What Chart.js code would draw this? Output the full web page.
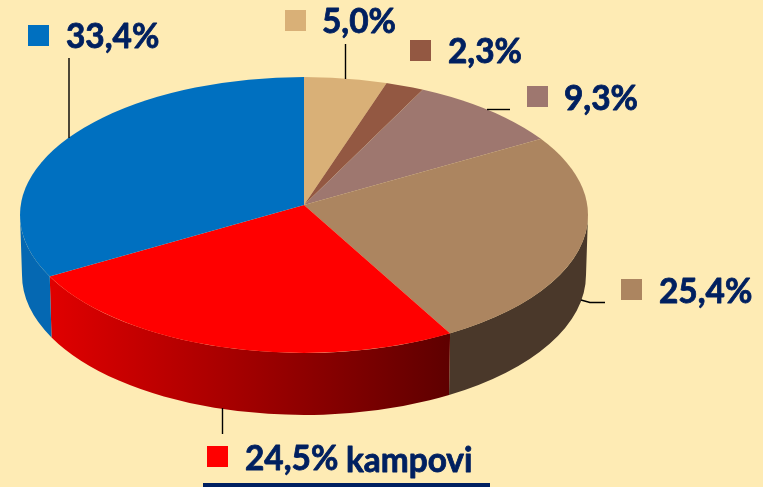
<!DOCTYPE html>
<html>
<head>
<meta charset="utf-8">
<style>html,body{margin:0;padding:0;background:#FEEBB4;overflow:hidden}canvas{display:block}</style>
<script src="https://cdn.jsdelivr.net/npm/chart.js@4"></script>
</head>
<body>
<canvas id="c" width="763" height="487"></canvas>
<script>
// Clockwise from twelve o'clock
const categories = ['Sand', 'Brown', 'Mauve', 'Tan', 'Kampovi', 'Blue'];
const values = [5.0, 2.3, 9.3, 25.4, 24.5, 33.4];
const valueLabels = ['5,0%', '2,3%', '9,3%', '25,4%', '24,5%', '33,4%'];
const suffixes = ['', '', '', '', 'kampovi', ''];
const topColors = ['#D9B077', '#935842', '#9E776F', '#AC8560', '#FF0000', '#0070C0'];

const INK = '#002060';
const apex = {x: 304, y: 205};
const upper = {cx: 304, cy: 215, rx: 284, ry: 138};
const lower = {cx: 304, cy: 275, rx: 282, ry: 140};
const TILT = 0.48;

// Callout layout by slice index: swatch left/top, text left/baseline, leader polyline
const callouts = [
  {sx: 285, sy: 10,  tx: 322, ty: 33,  line: [[345.5, 44], [345.5, 79]]},
  {sx: 410, sy: 40,  tx: 448, ty: 63,  line: null},
  {sx: 527, sy: 86,  tx: 564, ty: 110, line: [[487, 109.5], [510, 109.5]]},
  {sx: 621, sy: 279, tx: 659, ty: 303, line: [[581, 300], [590, 302.5], [605, 302.5]]},
  {sx: 207, sy: 446, tx: 245, ty: 470, line: [[222.5, 408], [222.5, 434]]},
  {sx: 28,  sy: 25,  tx: 66,  ty: 47.5, line: [[69, 58], [69, 138]]}
];

// Where a slice edge (chart angle) meets the rim ellipse; returns the ellipse parameter
function rimParam(a) {
  const dx = Math.cos(a), dy = TILT * Math.sin(a);
  const ox = (apex.x - upper.cx) / upper.rx, oy = (apex.y - upper.cy) / upper.ry;
  const px = dx / upper.rx, py = dy / upper.ry;
  const A = px * px + py * py, B = 2 * (ox * px + oy * py), C = ox * ox + oy * oy - 1;
  const k = (-B + Math.sqrt(B * B - 4 * A * C)) / (2 * A);
  return Math.atan2(oy + k * py, ox + k * px);
}
function wallFill(ctx, i) {
  if (i === 4) {
    const g = ctx.createLinearGradient(50, 0, 450, 0);
    g.addColorStop(0, '#E00000');
    g.addColorStop(0.5, '#A00000');
    g.addColorStop(1, '#5E0000');
    return g;
  }
  if (i === 3) return '#4A382A';
  if (i === 5) return '#0568B2';
  return topColors[i];
}
function drawText(ctx, text, x, y) {
  ctx.fillText(text, x, y);
  ctx.strokeText(text, x, y);
}

const pie3d = {
  id: 'pie3d',
  beforeDatasetsDraw(chart) {
    const ctx = chart.ctx, arcs = chart.getDatasetMeta(0).data;
    arcs.forEach((arc, i) => {
      let t0 = rimParam(arc.startAngle);
      let t1 = rimParam(arc.endAngle);
      if (t1 <= t0) t1 += 2 * Math.PI;
      // the slice may reach the front half (0..PI) directly or one turn round
      [0, -2 * Math.PI, 2 * Math.PI].forEach(shift => {
        const from = Math.max(t0 + shift, 0), to = Math.min(t1 + shift, Math.PI);
        if (to <= from) return;
        ctx.beginPath();
        ctx.ellipse(upper.cx, upper.cy, upper.rx, upper.ry, 0, from, to);
        ctx.ellipse(lower.cx, lower.cy, lower.rx, lower.ry, 0, to, from, true);
        ctx.closePath();
        ctx.fillStyle = wallFill(ctx, i);
        ctx.fill();
      });
    });
    const arc = arcs[0];
    const sx = 340 / arc.outerRadius;
    ctx.save();
    ctx.beginPath();
    ctx.ellipse(upper.cx, upper.cy, upper.rx, upper.ry, 0, 0, 2 * Math.PI);
    ctx.clip();
    ctx.translate(apex.x, apex.y);
    ctx.scale(sx, sx * TILT);
    ctx.translate(-arc.x, -arc.y);
  },
  afterDatasetsDraw(chart) {
    chart.ctx.restore();
  },
  afterDraw(chart) {
    const ctx = chart.ctx;
    ctx.save();
    callouts.forEach((c, i) => {
      if (c.line) {
        ctx.strokeStyle = '#000000';
        ctx.lineWidth = 1.4;
        ctx.beginPath();
        c.line.forEach((p, k) => k ? ctx.lineTo(p[0], p[1]) : ctx.moveTo(p[0], p[1]));
        ctx.stroke();
      }
      ctx.fillStyle = topColors[i];
      ctx.fillRect(c.sx, c.sy, 21, 21);
      ctx.fillStyle = INK;
      ctx.strokeStyle = INK;
      ctx.lineWidth = 0.8;
      ctx.lineJoin = 'round';
      ctx.textBaseline = 'alphabetic';
      ctx.textAlign = 'left';
      ctx.font = 'bold 33.4px Lato';
      drawText(ctx, valueLabels[i], c.tx, c.ty);
      if (suffixes[i]) {
        ctx.font = 'bold 33.4px Lato';
        drawText(ctx, suffixes[i], 346, c.ty + 2);
        ctx.fillRect(203, 483, 287, 4);
      }
    });
    ctx.restore();
  }
};

new Chart(document.getElementById('c'), {
  type: 'pie',
  data: {
    labels: categories,
    datasets: [{data: values, backgroundColor: topColors, borderWidth: 0, hoverOffset: 0}]
  },
  options: {
    responsive: false,
    animation: false,
    layout: {padding: 0},
    plugins: {legend: {display: false}, tooltip: {enabled: false}}
  },
  plugins: [pie3d]
});
</script>
</body>
</html>
